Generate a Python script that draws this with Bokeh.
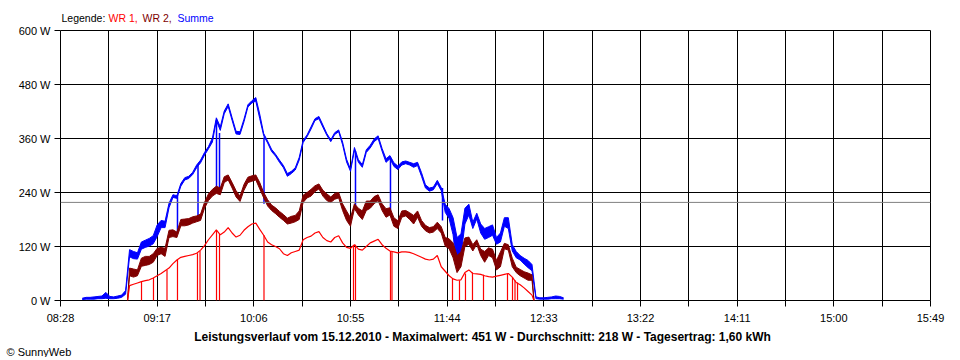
from bokeh.plotting import figure
from bokeh.layouts import column
from bokeh.models import Range1d, FixedTicker, Span, Title
from bokeh.core.properties import value
from bokeh.embed import file_html
from bokeh.resources import INLINE

# ---------------- data ----------------
sum_times = [
    "08:39", "08:41", "08:43", "08:45", "08:47", "08:49", "08:51", "08:53", "08:55", "08:57",
    "08:59", "09:01", "09:03", "09:05", "09:07", "09:09", "09:11", "09:13", "09:15", "09:17",
    "09:19", "09:21", "09:23", "09:25", "09:27", "09:29", "09:31", "09:33", "09:35", "09:37",
    "09:39", "09:41", "09:43", "09:45", "09:47", "09:49", "09:51", "09:53", "09:55", "09:57",
    "09:59", "10:01", "10:03", "10:05", "10:07", "10:09", "10:11", "10:13", "10:15", "10:17",
    "10:19", "10:21", "10:23", "10:25", "10:27", "10:29", "10:31", "10:33", "10:35", "10:37",
    "10:39", "10:41", "10:43", "10:45", "10:47", "10:49", "10:51", "10:53", "10:55", "10:57",
    "10:59", "11:01", "11:03", "11:05", "11:07", "11:09", "11:11", "11:13", "11:15", "11:17",
    "11:19", "11:21", "11:23", "11:25", "11:27", "11:29", "11:31", "11:33", "11:35", "11:37",
    "11:39", "11:41", "11:43", "11:45", "11:47", "11:49", "11:51", "11:53", "11:55", "11:57",
    "11:59", "12:01", "12:03", "12:05", "12:07", "12:09", "12:11", "12:13", "12:15", "12:17",
    "12:19", "12:21", "12:23", "12:25", "12:27", "12:29", "12:31", "12:33", "12:35", "12:37",
    "12:39", "12:41", "12:43",
]
sum_low = [
    2, 3, 3, 3, 4, 4, 5, 4, 4, 5,
    7, 14, 97, 93, 92, 114, 118, 121, 126, 142,
    162, 162, 206, 229, 227, 254, 268, 271, 280, 295,
    306, 323, 337, 352, 400, 378, 415, 431, 400, 370,
    369, 397, 430, 439, 443, 404, 366, 350, 331, 321,
    307, 295, 276, 282, 290, 312, 351, 364, 381, 400,
    404, 385, 367, 353, 369, 375, 346, 308, 287, 334,
    307, 296, 329, 339, 353, 360, 332, 307, 315, 298,
    291, 301, 304, 301, 296, 300, 276, 250, 243, 246,
    260, 244, 196, 182, 146, 70, 100, 170, 190, 160,
    181, 150, 136, 140, 145, 125, 130, 165, 160, 110,
    95, 90, 81, 73, 66, 4, 3, 3, 3, 4,
    4, 4, 3,
]
sum_high = [
    5, 7, 7, 8, 9, 10, 18, 9, 8, 10,
    12, 22, 113, 109, 106, 130, 134, 138, 144, 168,
    178, 176, 216, 235, 233, 260, 273, 276, 285, 301,
    312, 329, 342, 361, 406, 386, 421, 437, 406, 376,
    375, 403, 435, 444, 451, 414, 371, 354, 336, 325,
    312, 300, 282, 287, 295, 318, 356, 368, 386, 404,
    409, 390, 371, 357, 373, 379, 352, 314, 292, 340,
    313, 302, 335, 345, 359, 366, 338, 315, 322, 306,
    299, 308, 310, 307, 304, 307, 284, 257, 250, 252,
    267, 251, 214, 204, 184, 140, 148, 205, 214, 174,
    194, 170, 160, 164, 168, 140, 150, 184, 184, 124,
    109, 100, 94, 89, 80, 8, 6, 6, 7, 8,
    10, 9, 6,
]

wr_times = [
    "09:02", "09:03", "09:05", "09:07", "09:09", "09:11", "09:13", "09:15", "09:17", "09:19",
    "09:21", "09:23", "09:25", "09:27", "09:29", "09:31", "09:33", "09:35", "09:37", "09:39",
    "09:41", "09:43", "09:45", "09:47", "09:49", "09:51", "09:53", "09:55", "09:57", "09:59",
    "10:01", "10:03", "10:05", "10:07", "10:09", "10:11", "10:13", "10:15", "10:17", "10:19",
    "10:21", "10:23", "10:25", "10:27", "10:29", "10:31", "10:33", "10:35", "10:37", "10:39",
    "10:41", "10:43", "10:45", "10:47", "10:49", "10:51", "10:53", "10:55", "10:57", "10:59",
    "11:01", "11:03", "11:05", "11:07", "11:09", "11:11", "11:13", "11:15", "11:17", "11:19",
    "11:21", "11:23", "11:25", "11:27", "11:29", "11:31", "11:33", "11:35", "11:37", "11:39",
    "11:41", "11:43", "11:45", "11:47", "11:49", "11:51", "11:53", "11:55", "11:57", "11:59",
    "12:01", "12:03", "12:05", "12:07", "12:09", "12:11", "12:13", "12:15", "12:17", "12:19",
    "12:21", "12:23", "12:25", "12:27", "12:28",
]
wr2_low = [
    0, 55, 52, 55, 76, 78, 80, 85, 100, 104,
    98, 140, 142, 140, 166, 166, 168, 172, 175, 178,
    205, 222, 232, 238, 235, 262, 268, 250, 230, 220,
    245, 262, 265, 268, 248, 228, 210, 200, 193, 185,
    178, 170, 172, 175, 180, 218, 228, 232, 242, 248,
    232, 222, 218, 225, 228, 200, 178, 165, 204, 190,
    180, 200, 205, 215, 222, 200, 185, 190, 165, 160,
    185, 188, 180, 170, 185, 165, 155, 150, 152, 160,
    150, 121, 115, 95, 62, 75, 120, 125, 110, 125,
    100, 85, 100, 95, 68, 75, 115, 112, 75, 62,
    55, 50, 45, 45, 0,
]
wr2_high = [
    0, 72, 70, 68, 94, 98, 98, 104, 116, 118,
    116, 156, 157, 152, 180, 181, 182, 186, 188, 192,
    218, 237, 247, 254, 250, 275, 279, 262, 244, 232,
    258, 274, 277, 279, 262, 240, 224, 212, 206, 198,
    191, 183, 187, 189, 199, 234, 240, 247, 255, 259,
    245, 237, 230, 238, 240, 215, 199, 184, 215, 205,
    199, 221, 221, 231, 235, 215, 204, 206, 184, 177,
    199, 200, 195, 189, 199, 178, 167, 162, 164, 174,
    164, 140, 137, 128, 100, 108, 139, 141, 124, 135,
    114, 109, 117, 114, 89, 108, 127, 124, 94, 74,
    69, 64, 61, 57, 0,
]
wr1_watts = [
    0, 33, 36, 39, 42, 44, 46, 50, 55, 60,
    66, 72, 82, 90, 96, 98, 100, 102, 105, 112,
    122, 135, 146, 157, 146, 152, 162, 150, 141, 145,
    156, 164, 170, 172, 158, 145, 130, 124, 120, 115,
    104, 100, 106, 109, 112, 135, 140, 143, 150, 153,
    140, 133, 130, 140, 144, 128, 118, 116, 124, 114,
    112, 120, 128, 132, 136, 124, 116, 110, 108, 106,
    108, 108, 107, 104, 100, 96, 92, 90, 92, 100,
    75, 65, 55, 48, 45, 46, 62, 68, 60, 59,
    58, 55, 53, 52, 54, 56, 58, 60, 52, 40,
    35, 28, 20, 12, 0,
]

# short drop-outs of WR 1 to zero (time, value just before)
wr1_drop_times = [
    "09:09:04", "09:15:08", "09:21:59", "09:27:18", "09:37:26", "09:38:43", "09:47:05",
    "09:48:36", "10:11:09", "10:56:31", "10:57:32", "11:15:16", "11:16:02", "11:46:42",
    "11:50:15", "11:53:17", "11:56:50", "12:02:25", "12:14:35", "12:17:07", "12:18:23",
    "12:19:40",
]
wr1_drop_from = [
    42, 50, 68, 91, 105, 110, 156,
    148, 145, 122, 124, 110, 108, 50,
    45, 60, 62, 57, 60, 52, 45,
    40,
]
# matching short dips of the sum
sum_drop_times = ["09:27:18", "09:37:42", "09:47:05", "09:48:36", "10:11:09", "10:57:32", "11:15:16", "11:41:38"]
sum_drop_from = [235, 300, 400, 372, 362, 332, 315, 250]
sum_drop_to = [151, 182, 240, 240, 215, 205, 200, 178]

x_tick_labels = ["08:28", "09:17", "10:06", "10:55", "11:44", "12:33", "13:22", "14:11", "15:00", "15:49"]
y_tick_values = [0, 120, 240, 360, 480, 600]
average_watts = 218

legend_texts = ["Legende:", "WR 1,", "WR 2,", "Summe"]
caption_text = ("Leistungsverlauf vom 15.12.2010 - Maximalwert: 451 W - "
                "Durchschnitt: 218 W - Tagesertrag: 1,60 kWh")
copyright_text = "\u00a9 SunnyWeb"


def to_minutes(s):
    parts = [int(v) for v in s.split(":")]
    m = parts[0] * 60 + parts[1]
    if len(parts) == 3:
        m += parts[2] / 60.0
    return m


FONT = "Liberation Sans"
BLUE = "#0000ff"
DARKRED = "#800000"
RED = "#ff0000"
LEFT, RIGHT, FRAME_W = 60, 30, 870

sx = [to_minutes(t) for t in sum_times]
wx = [to_minutes(t) for t in wr_times]
label_minutes = [to_minutes(t) for t in x_tick_labels]
x_ticks = []
for i, m in enumerate(label_minutes):
    x_ticks.append(m)
    if i + 1 < len(label_minutes):
        x_ticks.append((m + label_minutes[i + 1]) / 2.0)
x_overrides = {t: "" for t in x_ticks}
for m, lab in zip(label_minutes, x_tick_labels):
    x_overrides[m] = lab


def text_strip(height, y_range, border_bottom=0):
    # frame spans the same page pixels as the chart frame; x measured in page pixels
    f = figure(frame_width=FRAME_W, frame_height=height,
               x_range=Range1d(LEFT, LEFT + FRAME_W), y_range=y_range,
               min_border_left=LEFT, min_border_right=RIGHT, min_border_top=0,
               min_border_bottom=border_bottom,
               x_axis_location=None, y_axis_location=None,
               outline_line_color=None, output_backend="svg", toolbar_location=None,
               background_fill_color="white", border_fill_color="white")
    f.grid.visible = False
    return f


# ---- legend strip above the chart
top = text_strip(24, Range1d(24, 0))
top.text(x=[61, 108, 142, 177], y=[17] * 4, text=legend_texts,
         text_color=["black", RED, DARKRED, BLUE],
         text_font=value(FONT), text_font_size=value("10.5px"),
         text_baseline="middle", text_align="left")

# ---- main chart
p = figure(
    x_range=Range1d(label_minutes[0], label_minutes[-1]),
    y_range=Range1d(y_tick_values[0], y_tick_values[-1]),
    frame_width=FRAME_W, frame_height=270,
    min_border_left=LEFT, min_border_right=RIGHT, min_border_top=6, min_border_bottom=30,
    output_backend="svg", toolbar_location=None,
    background_fill_color="white", border_fill_color="white",
    outline_line_color="black", outline_line_width=1,
)

for ax, ticks, overrides, standoff in (
    (p.xaxis[0], x_ticks, x_overrides, 5),
    (p.yaxis[0], y_tick_values, {v: f"{v} W" for v in y_tick_values}, 4),
):
    ax.ticker = FixedTicker(ticks=ticks)
    ax.major_label_overrides = overrides
    ax.axis_line_color = None
    ax.major_tick_in = 0
    ax.major_tick_out = 6
    ax.major_tick_line_color = "black"
    ax.minor_tick_line_color = None
    ax.major_label_text_font = FONT
    ax.major_label_text_font_size = "11px"
    ax.major_label_text_color = "black"
    ax.major_label_standoff = standoff

p.xgrid.ticker = FixedTicker(ticks=x_ticks)
p.ygrid.ticker = FixedTicker(ticks=y_tick_values)
for g in (p.xgrid[0], p.ygrid[0]):
    g.grid_line_color = "black"
    g.grid_line_alpha = 1.0
    g.grid_line_width = 1

# Summe (blue)
p.varea(x=sx, y1=sum_low, y2=sum_high, fill_color=BLUE)
p.line(sx, sum_low, line_color=BLUE, line_width=1)
p.line(sx, sum_high, line_color=BLUE, line_width=1)
sdx = [to_minutes(t) for t in sum_drop_times]
p.segment(x0=sdx, y0=sum_drop_from, x1=sdx, y1=sum_drop_to, line_color=BLUE, line_width=1.5)

# WR 2 (dark red)
p.varea(x=wx, y1=wr2_low, y2=wr2_high, fill_color=DARKRED)
p.line(wx, wr2_low, line_color=DARKRED, line_width=1)
p.line(wx, wr2_high, line_color=DARKRED, line_width=1)

# WR 1 (red)
p.line(wx, wr1_watts, line_color=RED, line_width=1.2)
rdx = [to_minutes(t) for t in wr1_drop_times]
p.segment(x0=rdx, y0=wr1_drop_from, x1=rdx, y1=[0] * len(rdx), line_color=RED, line_width=1.2)

# average line
p.add_layout(Span(location=average_watts, dimension="width", line_color="#808080", line_width=1))

# ---- caption strip below the chart
bottom = text_strip(13, Range1d(0, 1), border_bottom=3)
bottom.text(x=[482], y=[0.5], text=[caption_text], text_color="black",
            text_font=value(FONT), text_font_size=value("12px"), text_font_style="bold",
            text_baseline="middle", text_align="center")
bottom.add_layout(Title(text=copyright_text, align="left", offset=6 - LEFT, standoff=0,
                        text_font=FONT, text_font_size="11px", text_font_style="normal",
                        text_color="black"), "below")

layout = column(top, p, bottom, spacing=0)
open("out.html", "w").write(file_html(layout, INLINE))
